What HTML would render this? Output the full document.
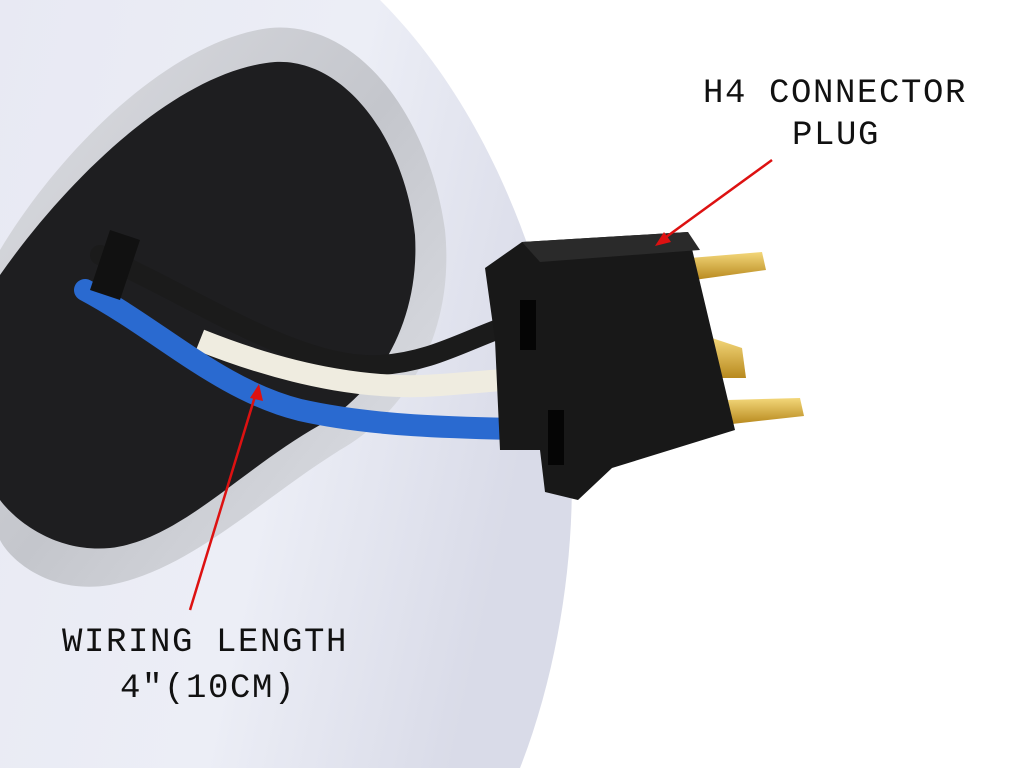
<!DOCTYPE html>
<html><head><meta charset="utf-8"><style>
html,body{margin:0;padding:0;background:#fff;width:1024px;height:768px;overflow:hidden}
svg{display:block}
text{font-family:"Liberation Mono",monospace;font-size:34px;fill:#111;letter-spacing:1.6px}
</style></head><body>
<svg width="1024" height="768" viewBox="0 0 1024 768">
<defs>
<linearGradient id="bowl" x1="0" y1="0" x2="1" y2="0.3">
<stop offset="0" stop-color="#e8e9f3"/><stop offset="0.6" stop-color="#eceef6"/><stop offset="1" stop-color="#d9dbe8"/>
</linearGradient>
<linearGradient id="rim" x1="0" y1="0" x2="1" y2="1">
<stop offset="0" stop-color="#dcdde2"/><stop offset="0.5" stop-color="#c4c6cc"/><stop offset="1" stop-color="#e2e4ea"/>
</linearGradient>
<linearGradient id="gold" x1="0" y1="0" x2="0" y2="1">
<stop offset="0" stop-color="#f3d77a"/><stop offset="1" stop-color="#b8891e"/>
</linearGradient>
</defs>
<rect width="1024" height="768" fill="#fff"/>
<path d="M0 0 L380 0 C470 90 530 220 560 360 C585 480 570 640 520 768 L0 768 Z" fill="url(#bowl)"/>
<path d="M0 250 C60 150 170 40 270 28 C360 20 430 120 445 230 C455 330 410 410 340 450 C260 500 190 570 110 585 C50 595 10 560 0 540 Z" fill="url(#rim)"/>
<path d="M0 275 C70 175 180 70 275 62 C345 58 405 140 415 235 C420 320 380 390 320 425 C240 470 180 540 110 548 C55 553 15 520 0 500 Z" fill="#1e1e20"/>
<path d="M100 255 C200 300 300 370 380 365 C440 362 480 330 535 318" stroke="#1b1b1b" stroke-width="20" fill="none" stroke-linecap="round"/>
<path d="M200 340 C300 380 380 390 440 385 C480 382 500 380 530 378" stroke="#efece0" stroke-width="22" fill="none"/>
<path d="M85 290 C160 330 220 390 300 410 C380 428 470 428 560 430" stroke="#2a6ad0" stroke-width="22" fill="none" stroke-linecap="round"/>
<path d="M110 230 L140 240 L120 300 L90 290 Z" fill="#111"/>
<polygon points="690,258 762,252 766,270 694,280" fill="url(#gold)"/>
<polygon points="712,338 742,348 746,378 716,378" fill="url(#gold)"/>
<polygon points="728,400 800,398 804,416 732,424" fill="url(#gold)"/>
<polygon points="485,268 522,242 688,232 735,430 612,468 578,500 545,492 540,450 500,450 495,340" fill="#181818"/>
<polygon points="522,242 688,232 700,250 540,262" fill="#2a2a2a"/>
<rect x="520" y="300" width="16" height="50" fill="#050505"/>
<rect x="548" y="410" width="16" height="55" fill="#050505"/>
<line x1="772" y1="160" x2="662" y2="240" stroke="#d11" stroke-width="2.5"/>
<polygon points="655,246 664,232 671,242" fill="#d11"/>
<line x1="190" y1="610" x2="256" y2="393" stroke="#d11" stroke-width="2.5"/>
<polygon points="259,384 250,398 263,401" fill="#d11"/>
<text x="703" y="102">H4 CONNECTOR</text>
<text x="792" y="144">PLUG</text>
<text x="62" y="651">WIRING LENGTH</text>
<text x="120" y="697">4″(10CM)</text>
</svg>
</body></html>
